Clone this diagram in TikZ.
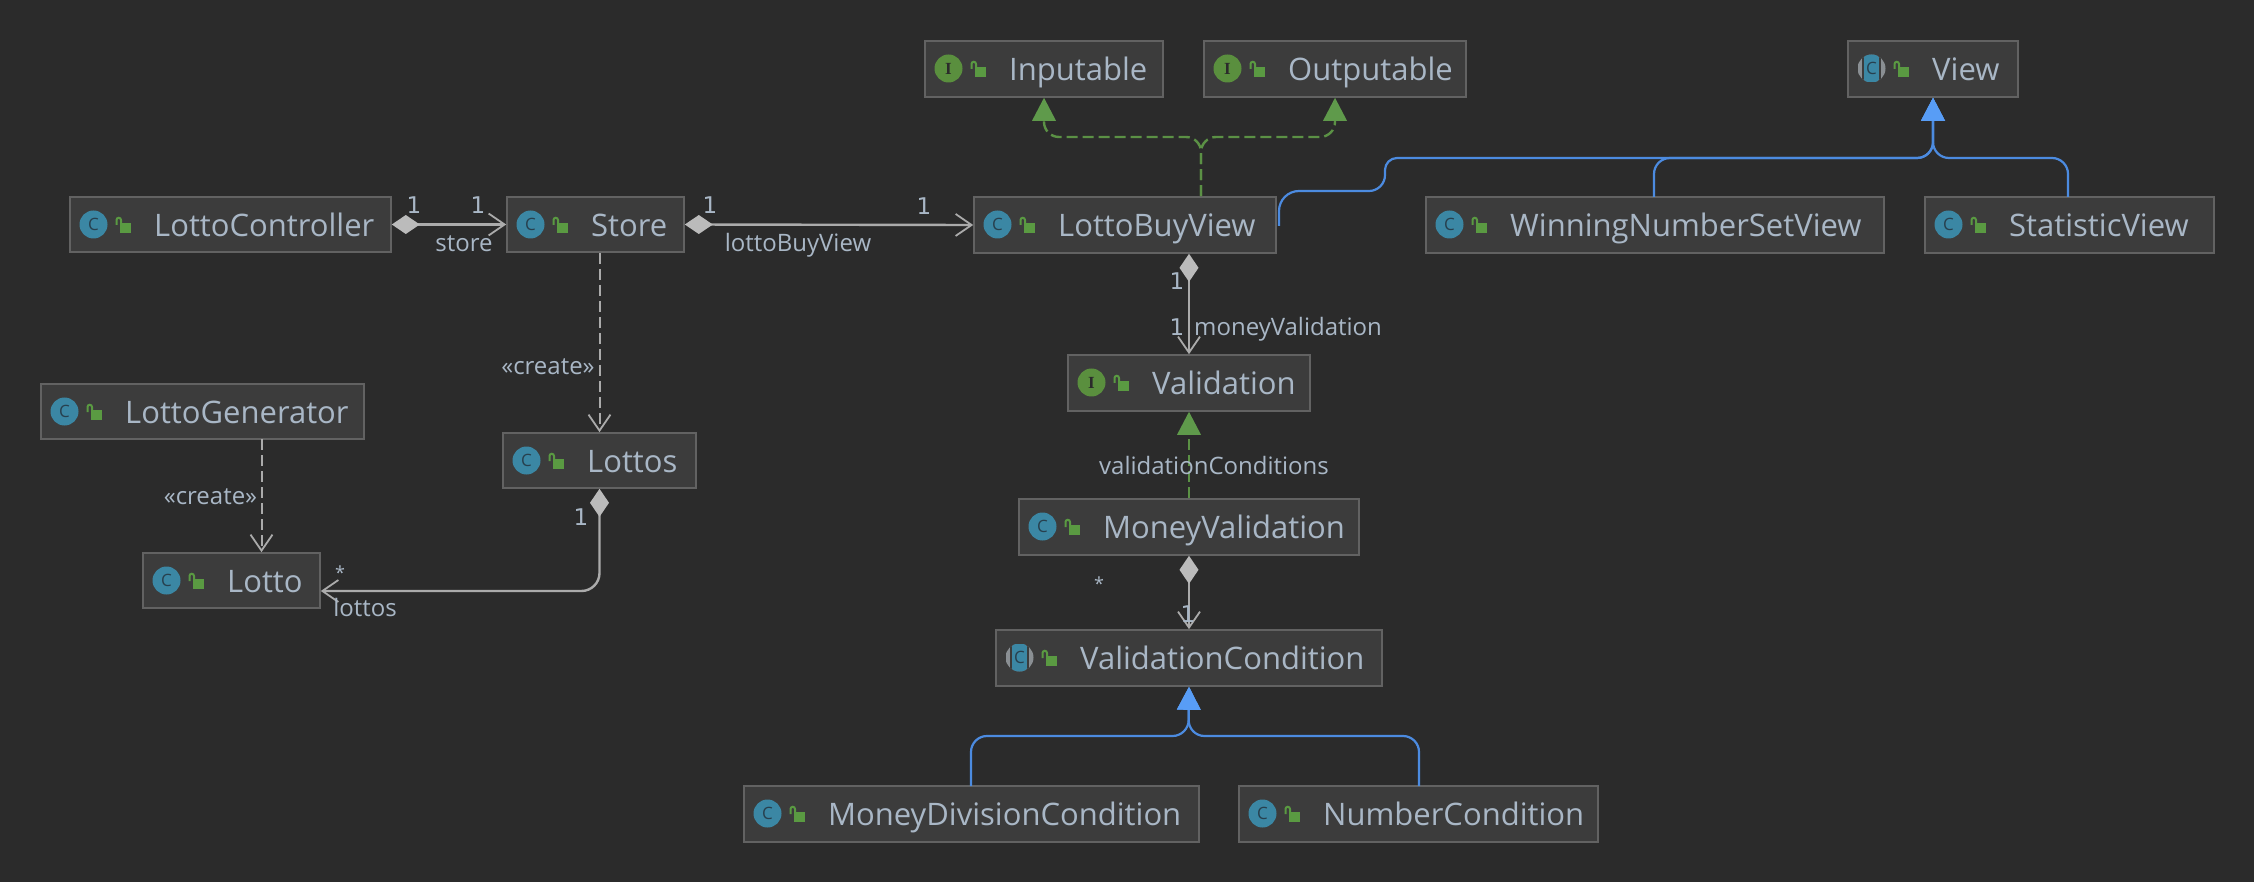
\documentclass[tikz,border=0pt]{standalone}
\usepackage{fontspec}
\setmainfont{Open Sans}
\newfontfamily\onefont{DejaVu Sans}
\newfontfamily\serifglyph{Liberation Serif}
\usetikzlibrary{arrows.meta}
\definecolor{bgc}{HTML}{2B2B2B}
\definecolor{boxc}{HTML}{3C3C3C}
\definecolor{edgec}{HTML}{626262}
\definecolor{txtc}{HTML}{A9B7C6}
\definecolor{assoc}{HTML}{ABABAB}
\definecolor{diamc}{HTML}{BBBBBB}
\definecolor{greenl}{HTML}{5B9145}
\definecolor{greenf}{HTML}{5F9A4B}
\definecolor{bluel}{HTML}{4C8BE0}
\definecolor{bluef}{HTML}{589DF6}
\definecolor{clsc}{HTML}{3B87A4}
\definecolor{lockc}{HTML}{5A9A42}
\definecolor{intc}{HTML}{5A8F3E}
\definecolor{absg}{HTML}{8A8F93}
\definecolor{glyphc}{HTML}{27404E}
\tikzset{
  classbox/.style={draw=edgec,fill=boxc,line width=1.6pt,inner sep=0pt,rectangle},
  classname/.style={text=txtc,font=\fontsize{31}{36}\selectfont,inner sep=0pt,anchor=base west},
  lbl/.style={text=txtc,font=\fontsize{24}{27}\selectfont,inner sep=0pt,anchor=base},
  lblw/.style={lbl,anchor=base west},
  lblone/.style={lbl,font=\onefont\fontsize{23}{27}\selectfont},
  lblstar/.style={lbl,font=\fontsize{18}{20}\selectfont},
  iconc/.style={circle,minimum size=28pt,inner sep=0pt,fill=clsc,text=glyphc,font=\fontsize{17}{20}\selectfont},
  iconi/.style={circle,minimum size=28pt,inner sep=0pt,fill=intc,text=bgc,font=\serifglyph\fontsize{17}{20}\bfseries\selectfont},
  assocl/.style={draw=assoc,line width=2.4pt,{Diamond[length=28pt,width=19pt,fill=diamc,color=diamc,line width=0pt]}-{Straight Barb[length=16pt,width=22pt,line width=1.8pt,color=assoc]}},
  depl/.style={draw=assoc,line width=2pt,dash pattern=on 11pt off 5pt,-{Straight Barb[length=16pt,width=22pt,line width=1.8pt,color=assoc]}},
  reall/.style={draw=greenl,line width=2.4pt,dash pattern=on 11pt off 5pt,rounded corners=15pt,-{Triangle[length=23pt,width=24pt,fill=greenf,color=greenf,line width=0pt]}},
  genl/.style={draw=bluel,line width=2.2pt,rounded corners=16pt,-{Triangle[length=23pt,width=24pt,fill=bluef,color=bluef,line width=0pt]}},
}
% name, kind (c/i/a), x1, y1, x2, y2, text
\newcommand{\umlclass}[7]{%
  \pgfmathsetmacro{\ucw}{#5-#3}\pgfmathsetmacro{\uch}{#6-#4}%
  \pgfmathsetmacro{\ucx}{(#3+#5)/2}\pgfmathsetmacro{\ucy}{(#4+#6)/2}%
  \node[classbox,minimum width=\ucw pt,minimum height=\uch pt] (#1) at (\ucx,\ucy) {};
  \pgfmathsetmacro{\uic}{#3+23.5}\pgfmathsetmacro{\uiy}{#4+27.5}%
  \ifx#2i
    \node[iconi] (#1-icon) at (\uic,\uiy) {I};
  \else\ifx#2a
    \begin{scope}
      \clip (\uic,\uiy) circle (14pt);
      \fill[absg] (\uic-14,\uiy-14) rectangle (\uic+14,\uiy+14);
      \fill[boxc] (\uic-9.5,\uiy-14) rectangle (\uic+9.5,\uiy+14);
      \fill[clsc] (\uic-7.5,\uiy-14) rectangle (\uic+7.5,\uiy+14);
    \end{scope}
    \node[text=glyphc,font=\fontsize{17}{20}\selectfont,inner sep=0pt] (#1-icon) at (\uic,\uiy) {C};
  \else
    \node[iconc] (#1-icon) at (\uic,\uiy) {C};
  \fi\fi
  % padlock
  \fill[lockc] (#3+49.5,#4+26.3) rectangle (#3+61,#4+35.7);
  \draw[lockc,line width=2pt] (#3+46.5,#4+28) -- (#3+46.5,#4+23) arc[start angle=180,end angle=360,radius=2.25] -- (#3+51,#4+26.3);
  \node[classname] (#1-name) at (#3+84,#4+39.5) {#7};
}
\begin{document}
\begin{tikzpicture}[x=1pt,y=-1pt]
\useasboundingbox (0,0) rectangle (2254,882);
\fill[bgc] (0,0) rectangle (2254,882);

\umlclass{controller}{c}{70}{197}{391}{252}{LottoController}
\umlclass{store}{c}{507}{197}{684}{252}{Store}
\umlclass{buyview}{c}{974}{197}{1276}{253}{LottoBuyView}
\umlclass{winning}{c}{1426}{197}{1884}{253}{WinningNumberSetView}
\umlclass{statistic}{c}{1925}{197}{2214}{253}{StatisticView}
\umlclass{inputable}{i}{925}{41}{1163}{97}{Inputable}
\umlclass{outputable}{i}{1204}{41}{1466}{97}{Outputable}
\umlclass{view}{a}{1848}{41}{2018}{97}{View}
\umlclass{generator}{c}{41}{384}{364}{439}{LottoGenerator}
\umlclass{lottos}{c}{503}{433}{696}{488}{Lottos}
\umlclass{lotto}{c}{143}{553}{320}{608}{Lotto}
\umlclass{validation}{i}{1068}{355}{1310}{411}{Validation}
\umlclass{moneyval}{c}{1019}{499}{1359}{555}{MoneyValidation}
\umlclass{valcond}{a}{996}{630}{1382}{686}{ValidationCondition}
\umlclass{moneydiv}{c}{744}{786}{1199}{842}{MoneyDivisionCondition}
\umlclass{numcond}{c}{1239}{786}{1598}{842}{NumberCondition}

% associations
\draw[assocl] (controller.east) -- (store.west);
\draw[assocl] (store.east) -- (buyview.west);
\draw[assocl] (buyview.south -| validation.north) -- (validation.north);
\draw[assocl] (moneyval.south) -- (valcond.north);
\coordinate (lottoport) at ([yshift=-10.5pt]lotto.east);
\draw[assocl,rounded corners=18pt] (lottos.south) -- (lottos.south |- lottoport) -- (lottoport);

% dependencies
\draw[depl] (lottos.north |- store.south) -- (lottos.north);
\coordinate (genfoot) at (261.5,439);
\draw[depl] (genfoot) -- (genfoot |- lotto.north);

% realizations
\coordinate (realfork) at (1201,150);
\coordinate (realrun) at (1201,137);
\draw[reall] (buyview.north -| realfork) -- (realrun) -- (realrun -| inputable.south) -- (inputable.south);
\draw[reall] (buyview.north -| realfork) -- (realrun) -- (realrun -| outputable.south) -- (outputable.south);
\draw[reall,line width=1.5pt,rounded corners=0pt] (moneyval.north) -- (validation.south);

% generalizations
\coordinate (viewrun) at (1933,158);
\coordinate (buyout) at (1279,226);
\draw[genl] (buyout) [rounded corners=20pt] -- (1279,191) [rounded corners=16pt] -- (1385,191) [rounded corners=12pt] -- (1385,158) [rounded corners=16pt] -- (viewrun) -- (view.south);
\coordinate (wintop) at (1654,197);
\coordinate (stattop) at (2068,197);
\draw[genl] (wintop) -- (1654,158) -- (viewrun) -- (view.south);
\draw[genl] (stattop) -- (2068,158) -- (viewrun) -- (view.south);
\coordinate (condrun) at (1188.5,736);
\coordinate (divtop) at (971,786);
\coordinate (numtop) at (1419,786);
\draw[genl] (divtop) -- (971,736) -- (condrun) -- (valcond.south);
\draw[genl] (numtop) -- (1419,736) -- (condrun) -- (valcond.south);

% labels
\node[lblone] (l1) at (414,214) {1};
\node[lblone] (l2) at (478,214) {1};
\node[lbl] (l3) at (464,251.5) {store};
\node[lblone] (l4) at (710,214) {1};
\node[lblone] (l5) at (924,215) {1};
\node[lbl] (l6) at (798,252) {lottoBuyView};
\node[lbl] (l7) at (548,374) {«create»};
\node[lbl] (l8) at (210.5,504) {«create»};
\node[lblone] (l9) at (581,525.7) {1};
\node[lblstar] (l10) at (340,579) {*};
\node[lbl] (l11) at (365,616.7) {lottos};
\node[lblone] (l12) at (1177,290) {1};
\node[lblone] (l13) at (1177,336) {1};
\node[lblw] (l14) at (1194,336) {moneyValidation};
\node[lbl] (l15) at (1214,474) {validationConditions};
\node[lblstar] (l16) at (1099,590) {*};
\node[lblone] (l17) at (1188,622) {1};
\end{tikzpicture}
\end{document}
